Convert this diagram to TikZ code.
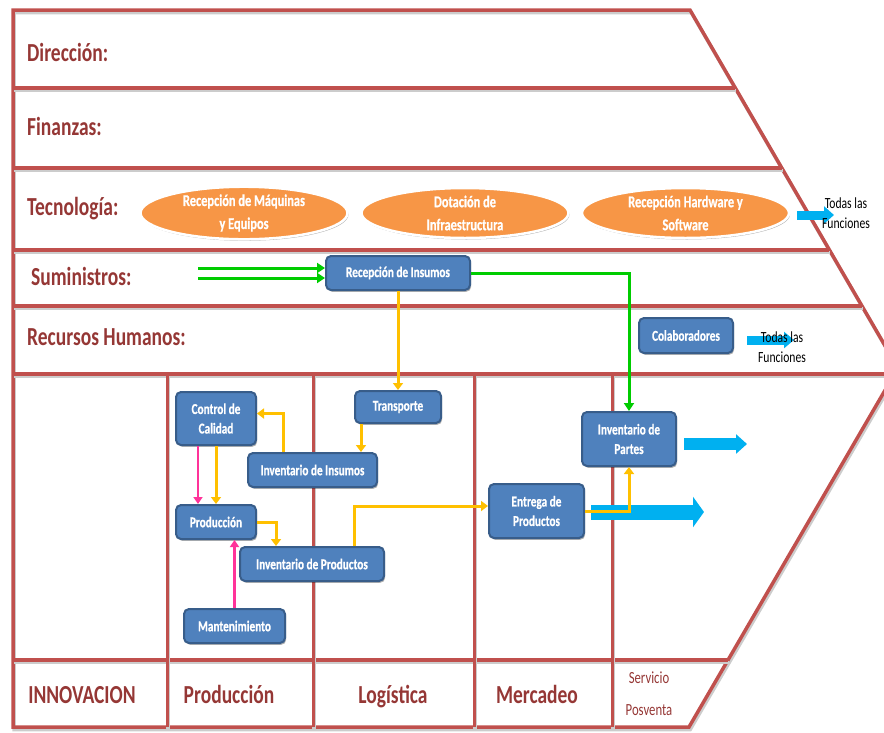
\documentclass[tikz,border=0pt]{standalone}
\usepackage{fontspec}
\setmainfont{Carlito}
\newfontfamily\slimfont[FakeStretch=0.75]{Carlito}
\newfontfamily\slimheavy[FakeStretch=0.75,FakeBold=0.6]{Carlito}
\usetikzlibrary{shapes.geometric,arrows.meta,shadows}

\definecolor{framered}{HTML}{C0504D}
\definecolor{labelred}{HTML}{953735}
\definecolor{boxfill}{HTML}{4F81BD}
\definecolor{boxline}{HTML}{385D8A}
\definecolor{ovalorange}{HTML}{F79646}
\definecolor{flowgreen}{HTML}{00CC00}
\definecolor{flowamber}{HTML}{FFC000}
\definecolor{flowpink}{HTML}{FF3399}
\definecolor{flowcyan}{HTML}{00B0F0}

\begin{document}
\begin{tikzpicture}[x=1pt,y=-1pt,
  framestroke/.style={draw=framered,line width=3.5pt,
    preaction={draw=black!20,line width=3.5pt,transform canvas={shift={(1.2,2.5)}}}},
  rowlabel/.style={anchor=base west,inner sep=0pt,text=labelred,
    font=\slimfont\bfseries\fontsize{26}{30}\selectfont},
  colabel/.style={anchor=base,inner sep=0pt,text=labelred,
    font=\slimfont\bfseries\fontsize{26}{30}\selectfont},
  smalllabel/.style={anchor=base,inner sep=0pt,text=labelred,
    font=\slimfont\fontsize{17}{20}\selectfont},
  procbox/.style={draw=boxline,line width=2pt,fill=boxfill,rounded corners=5pt,
    text=white,align=center,inner sep=0pt,
    font=\slimheavy\bfseries\fontsize{15}{19.5}\selectfont,
    drop shadow={shadow xshift=1.2pt,shadow yshift=-1.8pt,opacity=0.3,fill=black}},
  oval/.style={ellipse,draw=white,line width=2.5pt,fill=ovalorange,text=white,
    align=center,inner sep=0pt,minimum width=207pt,minimum height=50pt,
    font=\slimheavy\bfseries\fontsize{16.5}{23}\selectfont,
    drop shadow={shadow xshift=1pt,shadow yshift=-1.5pt,opacity=0.3,fill=black}},
  note/.style={align=center,inner sep=0pt,text=black,
    font=\slimfont\fontsize{15.5}{20}\selectfont},
  amber/.style={draw=flowamber,line width=3pt,-{Triangle[length=7pt,width=10pt]}},
  pinkflow/.style={draw=flowpink,line width=2.6pt,-{Triangle[length=7pt,width=9pt]}},
  greenflow/.style={draw=flowgreen,line width=3pt,-{Triangle[length=8pt,width=10pt]}},
  cyanflow/.style={draw=flowcyan}
]
\useasboundingbox (0,0) rectangle (884,732);
\clip (0,0) rectangle (884,732);

% outer chevron frame and its rows
\draw[framestroke,line join=miter] (13,10) -- (690,10) -- (898,368) -- (689,727) -- (13,727) -- cycle;
\draw[framestroke] (13,88) -- (735,88);
\draw[framestroke] (13,168) -- (782,168);
\draw[framestroke] (13,250) -- (829,250);
\draw[framestroke] (13,306) -- (862,306);
\draw[framestroke] (13,374) -- (900,374);
\draw[framestroke] (13,660) -- (728,660);
% columns of the primary activities
\foreach \cx in {167,313,474,612}
  \draw[framestroke,line width=3pt] (\cx,374) -- (\cx,727);

% row titles
\node[rowlabel] (ldir) at (27,61) {Dirección:};
\node[rowlabel] (lfin) at (27,135) {Finanzas:};
\node[rowlabel] (ltec) at (27,215) {Tecnología:};
\node[rowlabel] (lsum) at (31,285) {Suministros:};
\node[rowlabel] (lrh)  at (27,345) {Recursos Humanos:};

% column titles
\node[colabel] (cinn)  at (82,703)  {INNOVACION};
\node[colabel] (cprod) at (229,703) {Producción};
\node[colabel] (clog)  at (393,703) {Logística};
\node[colabel] (cmer)  at (537,703) {Mercadeo};
\node[smalllabel] (cser) at (649,683) {Servicio};
\node[smalllabel] (cpos) at (649,715) {Posventa};

% technology activities
\node[oval] (e1) at (244,213)   {Recepción de Máquinas\\y Equipos};
\node[oval] (e2) at (465,213)   {Dotación de\\Infraestructura};
\node[oval] (e3) at (685.5,213) {Recepción Hardware y\\Software};

% process boxes
\node[procbox,minimum width=144pt,minimum height=34pt] (rins)    at (398,273)   {Recepción de Insumos};
\node[procbox,minimum width=94pt, minimum height=35pt] (colab)   at (686,335.5) {Colaboradores};
\node[procbox,minimum width=80pt, minimum height=53pt] (ccal)    at (216,418.5) {Control de\\Calidad};
\node[procbox,minimum width=86pt, minimum height=32pt] (transp)  at (398,407)   {Transporte};
\node[procbox,minimum width=129pt,minimum height=34pt] (invins)  at (312.5,470) {Inventario de Insumos};
\node[procbox,minimum width=80pt, minimum height=34pt] (prod)    at (216,522)   {Producción};
\node[procbox,minimum width=144pt,minimum height=34pt] (invprod) at (312,564)   {Inventario de Productos};
\node[procbox,minimum width=101pt,minimum height=34pt] (mant)    at (234.5,626) {Mantenimiento};
\node[procbox,minimum width=94pt, minimum height=54pt] (invpart) at (629,439)   {Inventario de\\Partes};
\node[procbox,minimum width=95pt, minimum height=54pt] (entrega) at (536.5,511) {Entrega de\\Productos};

% outgoing block arrows
\coordinate (tipA) at (834,215);
\coordinate (tipB) at (794,340);
\coordinate (tipC) at (747,444);
\coordinate (tipD) at (704,512);
\draw[cyanflow,line width=9pt,-{Triangle[length=10pt,width=17pt]}]
  ([xshift=7pt,yshift=-2pt]e3.east) -- (tipA);
\draw[cyanflow,line width=9pt,-{Triangle[length=10pt,width=16pt]}]
  ([xshift=13pt,yshift=-4.5pt]colab.east) -- (tipB);
\draw[cyanflow,line width=12pt,-{Triangle[length=11pt,width=19pt]}]
  ([xshift=7pt,yshift=-5pt]invpart.east) -- (tipC);
\draw[cyanflow,line width=15pt,-{Triangle[length=11pt,width=30pt]}]
  ([xshift=6pt,yshift=-1pt]entrega.east) -- (tipD);

\node[note] (todos1) at (846,213) {Todas las\\Funciones};
\node[note] (todos2) at (782,347) {Todas las\\Funciones};

% supply inputs
\coordinate (gin1) at (198,268);
\coordinate (gin2) at (198,278);
\draw[greenflow] (gin1) -- (gin1 -| rins.west);
\draw[greenflow] (gin2) -- (gin2 -| rins.west);
\draw[greenflow] (rins.east) -| (invpart.north);

% material flows
\draw[amber] (rins.south) -- (transp.north);
\draw[amber] ([xshift=-37pt]transp.south) -- ([xshift=-37pt]transp.south |- invins.north);
\draw[amber] ([xshift=-29.5pt]invins.north) |- ([yshift=5pt]ccal.east);
\draw[amber] (ccal.south) -- (prod.north);
\draw[pinkflow] ([xshift=-18pt]ccal.south) -- ([xshift=-18pt]ccal.south |- prod.north);
\draw[amber] (prod.east) -| ([xshift=-36pt]invprod.north);
\draw[pinkflow] (mant.north) -- (mant.north |- prod.south);
\draw[amber] ([xshift=42pt]invprod.north) |- ([yshift=5pt]entrega.west);
\draw[amber] (entrega.east) -| (invpart.south);
\end{tikzpicture}
\end{document}
